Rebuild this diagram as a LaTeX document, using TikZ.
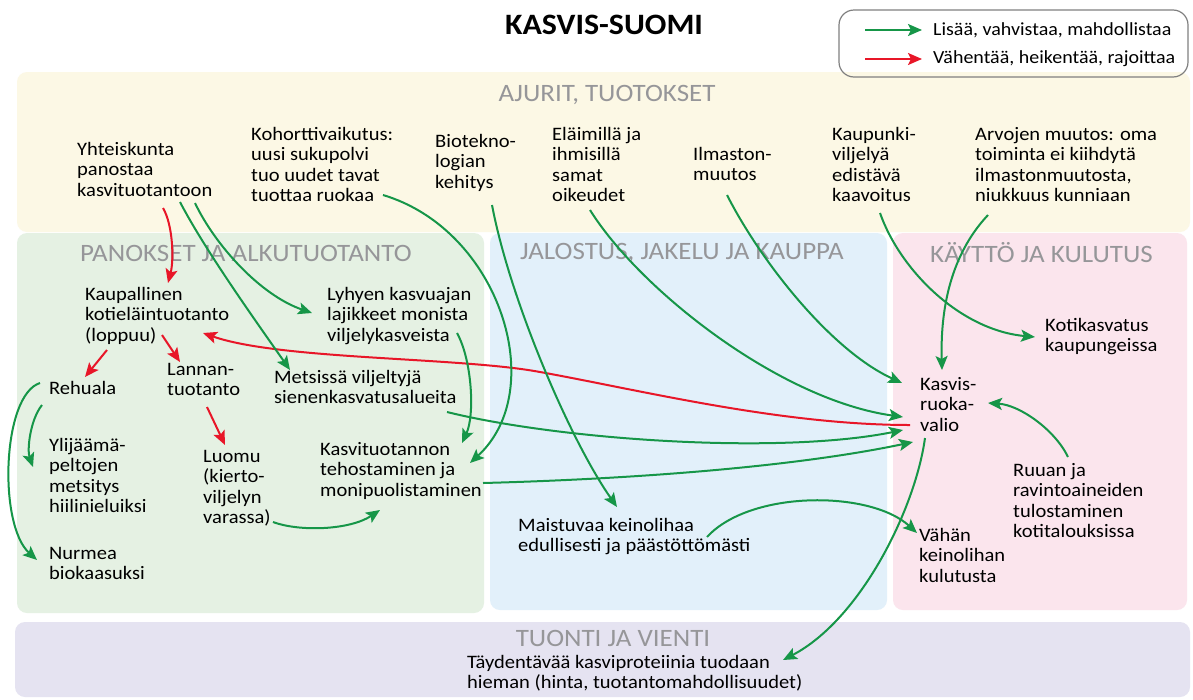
\documentclass[tikz,border=0pt]{standalone}
\usepackage{fontspec}
\setmainfont{Carlito}[FakeStretch=1.08]
\usetikzlibrary{arrows.meta}

\definecolor{agreen}{RGB}{22,150,72}
\definecolor{ared}{RGB}{232,22,40}
\definecolor{bandyellow}{RGB}{252,248,229}
\definecolor{bandgreen}{RGB}{229,241,227}
\definecolor{bandblue}{RGB}{226,240,250}
\definecolor{bandpink}{RGB}{251,229,237}
\definecolor{bandlilac}{RGB}{229,227,241}
\definecolor{headgray}{RGB}{150,150,153}

\begin{document}
\begin{tikzpicture}[x=1pt,y=-1pt,
  txt/.style={anchor=north west, align=left, inner sep=0pt,
    font=\fontsize{19}{20.5}\selectfont, execute at begin node=\strut},
  head/.style={inner sep=0pt, text=headgray,
    font=\fontsize{25}{27}\selectfont},
  band/.style={rounded corners=10pt, draw=none},
  plusarrow/.style={draw=agreen, line width=2pt,
    -{Stealth[length=14pt,width=12pt,inset=3pt]}},
  minusarrow/.style={draw=ared, line width=2pt,
    -{Stealth[length=14pt,width=12pt,inset=3pt]}},
  legtxt/.style={anchor=west, inner sep=0pt,
    font=\fontsize{18.5}{20}\selectfont}
]
\useasboundingbox (0,0) rectangle (1193,699);
\fill[white] (0,0) rectangle (1193,699);

% background bands
\fill[band, bandyellow] (17,72) rectangle (1190,232);
\fill[band, bandgreen] (17,233) rectangle (484,613);
\fill[band, bandblue] (490,233) rectangle (887,610);
\fill[band, bandpink] (893,233) rectangle (1187,610);
\fill[band, bandlilac] (15,622) rectangle (1190,697);

% title and legend
\node[inner sep=0pt, font=\fontsize{29.6}{32}\selectfont\bfseries] (title) at (604,25) {KASVIS-SUOMI};
\draw[rounded corners=15pt, draw=black!50, line width=1.2pt] (839,10) rectangle (1188,77);
\node[legtxt] (lg1) at (933,30) {Lisää, vahvistaa, mahdollistaa};
\node[legtxt] (lg2) at (933,59) {Vähentää, heikentää, rajoittaa};
\draw[plusarrow] ([xshift=-68pt]lg1.west) -- ([xshift=-11pt]lg1.west);
\draw[minusarrow] ([xshift=-68pt]lg2.west) -- ([xshift=-11pt]lg2.west);

% section headings
\node[head] (hajurit) at (607,95) {AJURIT, TUOTOKSET};
\node[head, anchor=west] (hpanos) at (80,253) {PANOKSET JA ALKUTUOTANTO};
\node[head, anchor=west] (hjalos) at (520,253) {JALOSTUS, JAKELU JA KAUPPA};
\node[head, anchor=west] (hkaytto) at (930,253) {KÄYTTÖ JA KULUTUS};
\node[head] (htuonti) at (613,638) {TUONTI JA VIENTI};

% drivers
\node[txt] (yht) at (77,142) {Yhteiskunta\\panostaa\\kasvituotantoon};
\node[txt] (koh) at (251,127) {Kohorttivaikutus:\\uusi sukupolvi\\tuo uudet tavat\\tuottaa ruokaa};
\node[txt] (bio) at (435,134) {Biotekno-\\logian\\kehitys};
\node[txt] (ela) at (552,127) {Eläimillä ja\\ihmisillä\\samat\\oikeudet};
\node[txt] (ilm) at (693,147) {Ilmaston-\\muutos};
\node[txt] (kau) at (832,127) {Kaupunki-\\viljelyä\\edistävä\\kaavoitus};
\node[txt] (arv) at (975,127) {Arvojen muutos: oma\\toiminta ei kiihdytä\\ilmastonmuutosta,\\niukkuus kunniaan};

% primary production
\node[txt] (kot) at (85,287) {Kaupallinen\\kotieläintuotanto\\(loppuu)};
\node[txt] (lyh) at (327,287) {Lyhyen kasvuajan\\lajikkeet monista\\viljelykasveista};
\node[txt] (reh) at (49,380) {Rehuala};
\node[txt] (lan) at (167,363) {Lannan-\\tuotanto};
\node[txt] (met) at (274,370) {Metsissä viljeltyjä\\sienenkasvatusalueita};
\node[txt] (yli) at (49,438) {Ylijäämä-\\peltojen\\metsitys\\hiilinieluiksi};
\node[txt] (luo) at (203,450) {Luomu\\(kierto-\\viljelyn\\varassa)};
\node[txt] (kas) at (320,442) {Kasvituotannon\\tehostaminen ja\\monipuolistaminen};
\node[txt] (nur) at (49,547) {Nurmea\\biokaasuksi};

% processing, consumption, trade
\node[txt] (mai) at (518,518) {Maistuvaa keinolihaa\\edullisesti ja päästöttömästi};
\node[txt] (kok) at (1045,318) {Kotikasvatus\\kaupungeissa};
\node[txt] (kasv) at (920,377) {Kasvis-\\ruoka-\\valio};
\node[txt] (ruu) at (1013,463) {Ruuan ja\\ravintoaineiden\\tulostaminen\\kotitalouksissa};
\node[txt] (vah) at (919,528) {Vähän\\keinolihan\\kulutusta};
\node[txt] (tay) at (467,655) {Täydentävää kasviproteiinia tuodaan\\hieman (hinta, tuotantomahdollisuudet)};

% weakening links
\draw[minusarrow] ([shift={(86,66)}]yht.north west) .. controls (173,225) and (174,260) .. ([shift={(83,-4)}]kot.north west);
\draw[minusarrow] ([shift={(22,63)}]kot.north west) -- ([shift={(36,-3)}]reh.north west);
\draw[minusarrow] ([shift={(77,48)}]kot.north west) -- ([shift={(13,-1)}]lan.north west);
\draw[minusarrow] ([shift={(40,44)}]lan.north west) -- ([shift={(22,-5)}]luo.north west);
\draw[minusarrow] ([shift={(-10,48)}]kasv.north west) .. controls (780,425) and (640,390) .. (540,372)
  .. controls (460,357) and (280,360) .. ([shift={(118,46)}]kot.north west);

% strengthening links
\draw[plusarrow] ([shift={(103,60)}]yht.north west) .. controls (205,250) and (255,320) .. ([shift={(16,0)}]met.north west);
\draw[plusarrow] ([shift={(118,61)}]yht.north west) .. controls (215,245) and (260,295) .. ([shift={(-15,26)}]lyh.north west);
\draw[plusarrow] ([shift={(132,68)}]koh.north west) .. controls (500,230) and (550,390) .. ([shift={(150,21)}]kas.north west);
\draw[plusarrow] ([shift={(130,46)}]lyh.north west) .. controls (472,360) and (475,415) .. ([shift={(142,1)}]kas.north west);
\draw[plusarrow] ([shift={(57,71)}]bio.north west) .. controls (510,300) and (570,440) .. ([shift={(99,-11)}]mai.north west);
\draw[plusarrow] ([shift={(38,83)}]ela.north west) .. controls (640,290) and (780,400) .. ([shift={(-17,40)}]kasv.north west);
\draw[plusarrow] ([shift={(34,48)}]ilm.north west) .. controls (760,260) and (830,350) .. ([shift={(-18,6)}]kasv.north west);
\draw[plusarrow] ([shift={(48,86)}]kau.north west) .. controls (900,270) and (960,330) .. ([shift={(-10,19)}]kok.north west);
\draw[plusarrow] ([shift={(13,88)}]arv.north west) .. controls (955,250) and (940,300) .. ([shift={(22,-7)}]kasv.north west);
\draw[plusarrow] ([shift={(173,42)}]met.north west) .. controls (560,440) and (780,455) .. ([shift={(-17,53)}]kasv.north west);
\draw[plusarrow] ([shift={(163,41)}]kas.north west) .. controls (600,480) and (780,470) .. ([shift={(-7,65)}]kasv.north west);
\draw[plusarrow] ([shift={(70,72)}]luo.north west) .. controls (300,532) and (350,530) .. ([shift={(60,68)}]kas.north west);
\draw[plusarrow] ([shift={(189,19)}]mai.north west) .. controls (750,490) and (870,490) .. ([shift={(-2,5)}]vah.north west);
\draw[plusarrow] ([shift={(5,61)}]kasv.north west) .. controls (915,510) and (860,620) .. ([shift={(316,5)}]tay.north west);
\draw[plusarrow] ([shift={(55,-6)}]ruu.north west) .. controls (1055,430) and (1020,405) .. ([shift={(68,26)}]kasv.north west);
\draw[plusarrow] ([shift={(-7,25)}]reh.north west) .. controls (30,420) and (27,450) .. ([shift={(-16,29)}]yli.north west);
\draw[plusarrow] ([shift={(-9,3)}]reh.north west) .. controls (2,395) and (-2,525) .. ([shift={(-12,13)}]nur.north west);
\end{tikzpicture}
\end{document}
